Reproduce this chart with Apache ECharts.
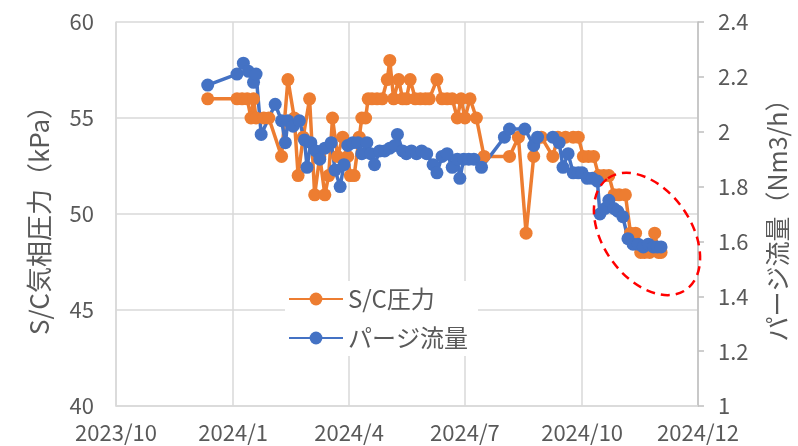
<!DOCTYPE html>
<html>
<head>
<meta charset="utf-8">
<script src="https://cdn.jsdelivr.net/npm/echarts@6/dist/echarts.min.js"></script>
<style>
  html, body { margin: 0; padding: 0; background: #fff; }
  #chart { width: 798px; height: 446px; }
</style>
</head>
<body>
<div id="chart"></div>
<script>
// S/C気相圧力 (kPa) - 左軸
const scDates = [
  '2023-12-12', '2024-01-04', '2024-01-08', '2024-01-12', '2024-01-15', '2024-01-17', '2024-01-19',
  '2024-01-25', '2024-01-29', '2024-02-08', '2024-02-13', '2024-02-18', '2024-02-21', '2024-02-25',
  '2024-03-01', '2024-03-05', '2024-03-09', '2024-03-13', '2024-03-16', '2024-03-19', '2024-03-23',
  '2024-03-27', '2024-03-31', '2024-04-02', '2024-04-05', '2024-04-09', '2024-04-11', '2024-04-14',
  '2024-04-16', '2024-04-19', '2024-04-23', '2024-04-27', '2024-05-01', '2024-05-03', '2024-05-06',
  '2024-05-10', '2024-05-13', '2024-05-16', '2024-05-19', '2024-05-23', '2024-05-27', '2024-05-31',
  '2024-06-03', '2024-06-09', '2024-06-13', '2024-06-17', '2024-06-21', '2024-06-25', '2024-06-28',
  '2024-07-01', '2024-07-05', '2024-07-10', '2024-07-16', '2024-08-05', '2024-08-12', '2024-08-18',
  '2024-08-24', '2024-08-30', '2024-09-08', '2024-09-12', '2024-09-18', '2024-09-24', '2024-09-28',
  '2024-10-02', '2024-10-06', '2024-10-10', '2024-10-14', '2024-10-18', '2024-10-22', '2024-10-26',
  '2024-10-30', '2024-11-04', '2024-11-08', '2024-11-12', '2024-11-16', '2024-11-19', '2024-11-23',
  '2024-11-27', '2024-11-30', '2024-12-02'
];
const scValues = [
  56, 56, 56, 56, 55, 56, 55,
  55, 55, 53, 57, 55, 52, 54,
  56, 51, 53, 51, 52, 55, 53,
  54, 53, 52, 52, 54, 55, 55,
  56, 56, 56, 56, 57, 58, 56,
  57, 56, 56, 57, 56, 56, 56,
  56, 57, 56, 56, 56, 55, 56,
  55, 56, 55, 53, 53, 54, 49,
  53, 54, 53, 54, 54, 54, 54,
  53, 53, 53, 52, 52, 52, 51,
  51, 51, 49, 49, 48, 48, 48,
  49, 48, 48
];

// パージ流量 (Nm3/h) - 右軸
const flowDates = [
  '2023-12-12', '2024-01-04', '2024-01-09', '2024-01-13', '2024-01-17', '2024-01-19', '2024-01-23',
  '2024-02-03', '2024-02-08', '2024-02-11', '2024-02-13', '2024-02-17', '2024-02-22', '2024-02-26',
  '2024-02-28', '2024-03-02', '2024-03-06', '2024-03-09', '2024-03-13', '2024-03-18', '2024-03-21',
  '2024-03-25', '2024-03-28', '2024-03-31', '2024-04-04', '2024-04-08', '2024-04-11', '2024-04-15',
  '2024-04-18', '2024-04-21', '2024-04-25', '2024-04-29', '2024-05-03', '2024-05-07', '2024-05-09',
  '2024-05-13', '2024-05-16', '2024-05-20', '2024-05-24', '2024-05-28', '2024-06-01', '2024-06-06',
  '2024-06-09', '2024-06-13', '2024-06-17', '2024-06-21', '2024-06-25', '2024-06-27', '2024-06-30',
  '2024-07-04', '2024-07-08', '2024-07-14', '2024-08-01', '2024-08-05', '2024-08-17', '2024-08-24',
  '2024-08-27', '2024-09-08', '2024-09-13', '2024-09-16', '2024-09-20', '2024-09-24', '2024-09-28',
  '2024-10-01', '2024-10-05', '2024-10-09', '2024-10-13', '2024-10-15', '2024-10-19', '2024-10-22',
  '2024-10-26', '2024-10-29', '2024-11-02', '2024-11-06', '2024-11-10', '2024-11-14', '2024-11-18',
  '2024-11-22', '2024-11-26', '2024-11-29', '2024-12-02'
];
const flowValues = [
  2.17, 2.21, 2.25, 2.22, 2.18, 2.21, 1.99,
  2.10, 2.04, 1.96, 2.04, 2.02, 2.04, 1.97,
  1.87, 1.96, 1.93, 1.90, 1.94, 1.96, 1.86,
  1.80, 1.88, 1.95, 1.96, 1.96, 1.92, 1.96,
  1.92, 1.88, 1.93, 1.93, 1.94, 1.95, 1.99,
  1.93, 1.92, 1.93, 1.92, 1.93, 1.92, 1.88,
  1.85, 1.91, 1.92, 1.87, 1.90, 1.83, 1.90,
  1.90, 1.90, 1.87, 1.98, 2.01, 2.01, 1.95,
  1.98, 1.98, 1.96, 1.87, 1.92, 1.85, 1.85,
  1.85, 1.83, 1.83, 1.82, 1.70, 1.72, 1.75,
  1.72, 1.71, 1.69, 1.61, 1.59, 1.59, 1.58,
  1.59, 1.58, 1.58, 1.58
];

// x軸の目盛り (四半期ごと)
const xTicks = ['2023-10-01', '2024-01-01', '2024-04-01', '2024-07-01', '2024-10-01', '2024-12-31'];

function toTime(s) {
  const p = s.split('-');
  return new Date(+p[0], +p[1] - 1, +p[2]).getTime();
}
const zip = (d, v) => d.map((x, i) => [toTime(x), v[i]]);
const tickTimes = xTicks.map(toTime);

const chart = echarts.init(document.getElementById('chart'));
const txt = '#595959';
const font = "'Noto Sans CJK JP', 'Noto Sans', sans-serif";

chart.setOption({
  animation: false,
  textStyle: { fontFamily: font },
  grid: { left: 116, right: 94, top: 22, bottom: 40, containLabel: false },
  legend: {
    orient: 'vertical',
    left: 285,
    top: 281,
    itemWidth: 54,
    itemHeight: 16,
    itemGap: 15,
    padding: [6, 10, 6, 3],
    backgroundColor: '#fff',
    textStyle: { color: txt, fontSize: 24, fontFamily: font },
    data: ['S/C圧力', 'パージ流量']
  },
  xAxis: {
    type: 'value',
    min: tickTimes[0],
    max: tickTimes[tickTimes.length - 1],
    axisLine: { lineStyle: { color: '#D9D9D9', width: 1.5 } },
    axisTick: { show: false, customValues: tickTimes },
    splitLine: { show: true, lineStyle: { color: '#D9D9D9', width: 1.5 } },
    axisLabel: {
      customValues: tickTimes,
      color: txt,
      fontSize: 22,
      margin: 16,
      fontFamily: font,
      showMinLabel: true,
      showMaxLabel: true,
      formatter: v => {
        const d = new Date(v);
        return d.getFullYear() + '/' + (d.getMonth() + 1);
      }
    }
  },
  yAxis: [
    {
      type: 'value',
      min: 40, max: 60, interval: 5,
      name: 'S/C気相圧力（kPa）',
      nameLocation: 'middle',
      nameGap: 64,
      nameTextStyle: { color: txt, fontSize: 26, fontFamily: font },
      axisLine: { show: true, lineStyle: { color: '#D9D9D9', width: 1.5 } },
      axisTick: { show: false },
      splitLine: { lineStyle: { color: '#D9D9D9', width: 1.5 } },
      axisLabel: { color: txt, fontSize: 22, margin: 22, fontFamily: font }
    },
    {
      type: 'value',
      min: 1, max: 2.4, interval: 0.2,
      name: 'パージ流量（Nm3/h）',
      nameLocation: 'middle',
      nameGap: 67,
      nameRotate: 90,
      nameTextStyle: { color: txt, fontSize: 25, fontFamily: font },
      axisLine: { show: true, lineStyle: { color: '#BFBFBF', width: 1.5 } },
      axisTick: { show: true, length: 6, lineStyle: { color: '#BFBFBF', width: 1.5 } },
      splitLine: { show: false },
      axisLabel: { color: txt, fontSize: 22, margin: 20, fontFamily: font }
    }
  ],
  series: [
    {
      name: 'S/C圧力',
      type: 'line',
      yAxisIndex: 0,
      data: zip(scDates, scValues),
      symbol: 'circle',
      symbolSize: 13,
      color: '#ED7D31',
      lineStyle: { width: 3.5, color: '#ED7D31' },
      itemStyle: { color: '#ED7D31' }
    },
    {
      name: 'パージ流量',
      type: 'line',
      yAxisIndex: 1,
      data: zip(flowDates, flowValues),
      symbol: 'circle',
      symbolSize: 13,
      color: '#4472C4',
      lineStyle: { width: 3.5, color: '#4472C4' },
      itemStyle: { color: '#4472C4' }
    }
  ],
  graphic: [
    {
      type: 'ellipse',
      x: 647,
      y: 234,
      rotation: -55 * Math.PI / 180,
      shape: { cx: 0, cy: 0, rx: 68, ry: 44 },
      style: { fill: 'none', stroke: '#FF0000', lineWidth: 2.5, lineDash: [9, 6] },
      z: 100
    }
  ]
});
</script>
</body>
</html>
